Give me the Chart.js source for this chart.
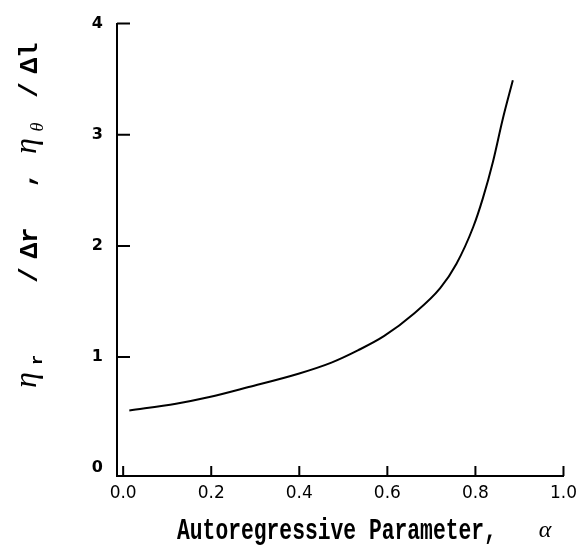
<!DOCTYPE html>
<html>
<head>
<meta charset="utf-8">
<script src="https://cdn.jsdelivr.net/npm/chart.js@4"></script>
<style>
  html, body { margin: 0; padding: 0; background: #fff; }
  #wrap { width: 584px; height: 548px; }
</style>
</head>
<body>
<div id="wrap"><canvas id="chart"></canvas></div>
<script>
// values
const alphaValues = [0.014, 0.12, 0.196, 0.285, 0.398, 0.473, 0.533, 0.593, 0.66, 0.72, 0.757, 0.795, 0.817, 0.84, 0.862, 0.885]
const etaValues = [0.52, 0.58, 0.64, 0.73, 0.85, 0.95, 1.06, 1.19, 1.39, 1.62, 1.84, 2.17, 2.43, 2.76, 3.14, 3.49]
const xTicks = [0, 0.2, 0.4, 0.6, 0.8, 1.0]
const yTicks = [0, 1, 2, 3, 4]
const xTitle = 'Autoregressive Parameter,'

const points = alphaValues.map((a, i) => ({ x: a, y: etaValues[i] }))

// ticks drawn inside the plot, like the original
const inwardTicks = {
    id: 'inwardTicks',
    afterDatasetsDraw(chart) {
        const { ctx, scales: { x, y } } = chart
        ctx.save()
        ctx.strokeStyle = '#000'
        ctx.lineWidth = 2
        ctx.beginPath()
        xTicks.forEach(v => {
            const px = x.getPixelForValue(v)
            ctx.moveTo(px, y.bottom)
            ctx.lineTo(px, y.bottom - 10)
        })
        yTicks.slice(1).forEach(v => {
            const py = y.getPixelForValue(v)
            ctx.moveTo(x.left, py)
            ctx.lineTo(x.left + 13, py)
        })
        ctx.stroke()
        ctx.restore()
    }
}

// axis titles with subscripts, drawn by hand
const axisTitles = {
    id: 'axisTitles',
    afterDraw(chart) {
        const { ctx } = chart
        ctx.save()
        ctx.fillStyle = '#000'
        ctx.textBaseline = 'middle'

        // x title, condensed typewriter look
        ctx.save()
        ctx.translate(177, 532)
        ctx.scale(0.82, 1.1)
        ctx.font = 'bold 26px "Liberation Mono"'
        ctx.textAlign = 'left'
        ctx.fillText(xTitle, 0, 0)
        ctx.restore()
        ctx.font = 'italic 24px "Liberation Serif"'
        ctx.textAlign = 'center'
        ctx.fillText('α', 545, 531)

        // y title, rotated
        ctx.save()
        ctx.translate(30, 0)
        ctx.rotate(-Math.PI / 2)
        // pos = canvas y of the glyph centre, dy = shift toward the axis
        const seg = (text, font, pos, dy) => {
            ctx.font = font
            ctx.textAlign = 'center'
            ctx.fillText(text, -pos, dy || 0)
        }
        seg('η', 'italic 32px "Liberation Serif"', 380, -2)
        seg('r', 'bold 17px "Liberation Mono"', 360, 8)
        seg('/', 'bold 26px "Liberation Mono"', 275, 0)
        seg('Δr', 'bold 26px "Liberation Mono"', 243, 0)
        seg(',', 'bold 26px "Liberation Mono"', 180, -4)
        seg('η', 'italic 32px "Liberation Serif"', 146, -2)
        seg('θ', 'italic 18px "Liberation Serif"', 127, 8)
        seg('/', 'bold 26px "Liberation Mono"', 90, 0)
        seg('Δl', 'bold 26px "Liberation Mono"', 58, 0)
        ctx.restore()

        ctx.restore()
    }
}

const config = {
    type: 'line',
    data: {
        datasets: [{
            data: points,
            borderColor: '#000',
            borderWidth: 2,
            pointRadius: 0,
            fill: false,
            cubicInterpolationMode: 'monotone'
        }]
    },
    options: {
        responsive: true,
        maintainAspectRatio: false,
        animation: false,
        layout: { padding: { left: 0, right: 16, top: 16, bottom: 0 } },
        plugins: {
            legend: { display: false },
            tooltip: { enabled: false }
        },
        scales: {
            x: {
                type: 'linear',
                min: -0.014,
                max: 1.0,
                afterBuildTicks: scale => { scale.ticks = xTicks.map(v => ({ value: v })) },
                afterFit: scale => { scale.height = 72 },
                grid: { display: false, drawTicks: false },
                border: { display: true, color: '#000', width: 2 },
                ticks: {
                    color: '#000',
                    padding: 7,
                    maxRotation: 0,
                    font: { family: 'DejaVu Sans', size: 17 },
                    callback: v => v.toFixed(1)
                }
            },
            y: {
                type: 'linear',
                min: -0.07,
                max: 4,
                afterBuildTicks: scale => { scale.ticks = yTicks.map(v => ({ value: v })) },
                afterFit: scale => { scale.width = 117 },
                grid: { display: false, drawTicks: false },
                border: { display: true, color: '#000', width: 2 },
                ticks: {
                    color: '#000',
                    padding: 14,
                    font: { family: 'DejaVu Sans', size: 16, weight: 'bold' },
                    callback: v => String(v)
                }
            }
        }
    },
    plugins: [inwardTicks, axisTitles]
}

new Chart(document.getElementById('chart').getContext('2d'), config)
</script>
</body>
</html>
